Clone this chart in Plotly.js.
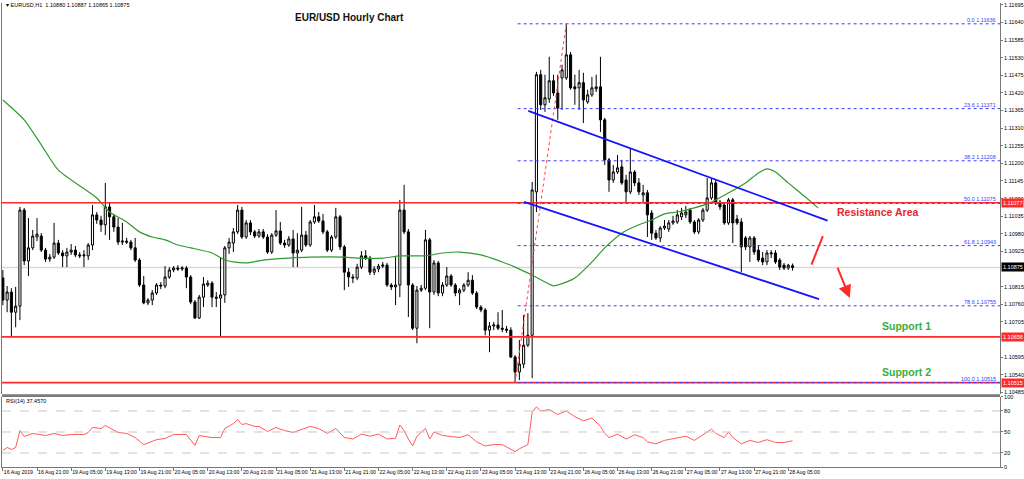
<!DOCTYPE html>
<html><head><meta charset="utf-8">
<script src="https://cdn.plot.ly/plotly-3.0.1.min.js"></script>
<style>html,body{margin:0;padding:0;background:#fff}#chart{width:1024px;height:479px}</style>
</head><body><div id="chart"></div>
<script>
// ---- EUR/USD H1 candles (bar 0 = 16 Aug 2019 13:00) ----
const opens = [1.10842,1.10773,1.10798,1.10735,1.10754,1.11054,1.10895,1.10936,1.10970,1.10973,
1.10929,1.10901,1.10907,1.10951,1.10920,1.10911,1.10923,1.10929,1.10914,1.10911,
1.10911,1.10945,1.11039,1.11023,1.11008,1.11064,1.11033,1.11001,1.10954,1.10957,
1.10954,1.10936,1.10898,1.10820,1.10764,1.10773,1.10795,1.10820,1.10817,1.10845,
1.10867,1.10873,1.10870,1.10873,1.10845,1.10767,1.10717,1.10782,1.10820,1.10826,
1.10782,1.10779,1.10789,1.10936,1.10951,1.10986,1.11054,1.10970,1.11014,1.10986,
1.10973,1.10986,1.10970,1.10923,1.10976,1.10989,1.10951,1.10945,1.10964,1.10920,
1.10929,1.10976,1.10945,1.11017,1.11033,1.11020,1.10986,1.10929,1.10970,1.11033,
1.10939,1.10860,1.10845,1.10842,1.10876,1.10911,1.10904,1.10860,1.10870,1.10879,
1.10882,1.10820,1.10814,1.10820,1.11054,1.10986,1.10820,1.10685,1.10804,1.10810,
1.10961,1.10798,1.10889,1.10795,1.10820,1.10848,1.10820,1.10795,1.10804,1.10820,
1.10835,1.10795,1.10751,1.10742,1.10679,1.10692,1.10695,1.10685,1.10682,1.10679,
1.10595,1.10548,1.10573,1.10632,1.10663,1.11111,1.11477,1.11383,1.11401,1.11458,
1.11420,1.11467,1.11467,1.11539,1.11439,1.11436,1.11452,1.11392,1.11414,1.11433,
1.11439,1.11336,1.11211,1.11148,1.11173,1.11189,1.11148,1.11111,1.11173,1.11139,
1.11101,1.11108,1.11045,1.10982,1.10967,1.10998,1.10995,1.11014,1.11017,1.11033,
1.11039,1.11054,1.11017,1.10986,1.11023,1.11054,1.11092,1.11139,1.11079,1.11070,
1.11014,1.11086,1.11026,1.11017,1.10967,1.10939,1.10967,1.10929,1.10904,1.10892,
1.10917,1.10920,1.10898,1.10882,1.10873,1.10880];
const highs = [1.10867,1.10817,1.10810,1.10814,1.11064,1.11061,1.11029,1.10992,1.11029,1.10982,
1.10936,1.10917,1.11014,1.10961,1.10929,1.10936,1.10948,1.10942,1.10923,1.10929,
1.10951,1.11070,1.11048,1.11036,1.11139,1.11076,1.11042,1.11029,1.11014,1.10967,
1.10961,1.10967,1.10904,1.10848,1.10779,1.10804,1.10826,1.10829,1.10879,1.10876,
1.10879,1.10882,1.10879,1.10879,1.10851,1.10773,1.10789,1.10845,1.10835,1.10832,
1.10798,1.10907,1.10942,1.10967,1.10998,1.11070,1.11064,1.11023,1.11023,1.10992,
1.10995,1.10995,1.10979,1.10982,1.11054,1.11017,1.10961,1.10973,1.10992,1.10982,
1.11064,1.10989,1.11023,1.11070,1.11048,1.11042,1.10992,1.10976,1.11061,1.11039,
1.10945,1.10873,1.10854,1.10886,1.10926,1.10929,1.10911,1.10879,1.10886,1.10892,
1.10889,1.10826,1.10907,1.11086,1.11133,1.10995,1.10826,1.10817,1.10820,1.10992,
1.10967,1.10898,1.10895,1.10829,1.10876,1.10854,1.10826,1.10810,1.10826,1.10860,
1.10851,1.10801,1.10757,1.10748,1.10704,1.10704,1.10735,1.10742,1.10692,1.10688,
1.10601,1.10648,1.10726,1.10732,1.11142,1.11486,1.11492,1.11477,1.11533,1.11477,
1.11477,1.11508,1.11636,1.11548,1.11477,1.11492,1.11483,1.11430,1.11470,1.11477,
1.11533,1.11342,1.11217,1.11195,1.11226,1.11211,1.11164,1.11248,1.11179,1.11154,
1.11133,1.11117,1.11054,1.10992,1.11004,1.11023,1.11023,1.11036,1.11054,1.11061,
1.11067,1.11061,1.11023,1.11029,1.11061,1.11154,1.11154,1.11148,1.11086,1.11079,
1.11092,1.11092,1.11039,1.11029,1.10973,1.10973,1.10973,1.10945,1.10923,1.10929,
1.10929,1.10929,1.10904,1.10889,1.10886,1.10887];
const lows = [1.10757,1.10735,1.10660,1.10688,1.10710,1.10882,1.10848,1.10929,1.10957,1.10923,
1.10892,1.10892,1.10901,1.10914,1.10876,1.10876,1.10914,1.10907,1.10904,1.10876,
1.10898,1.10929,1.11011,1.10986,1.10976,1.10961,1.10986,1.10945,1.10945,1.10948,
1.10929,1.10892,1.10814,1.10760,1.10757,1.10757,1.10789,1.10807,1.10810,1.10839,
1.10860,1.10864,1.10864,1.10810,1.10760,1.10714,1.10714,1.10751,1.10814,1.10751,
1.10751,1.10657,1.10764,1.10917,1.10923,1.10979,1.10964,1.10964,1.10976,1.10967,
1.10967,1.10964,1.10917,1.10917,1.10970,1.10945,1.10936,1.10939,1.10876,1.10876,
1.10923,1.10939,1.10939,1.11011,1.11014,1.10979,1.10923,1.10923,1.10964,1.10929,
1.10804,1.10814,1.10826,1.10835,1.10870,1.10898,1.10851,1.10851,1.10860,1.10873,
1.10814,1.10804,1.10757,1.10782,1.10979,1.10720,1.10679,1.10638,1.10798,1.10804,
1.10685,1.10789,1.10785,1.10785,1.10814,1.10814,1.10785,1.10757,1.10798,1.10814,
1.10789,1.10745,1.10735,1.10663,1.10610,1.10679,1.10679,1.10673,1.10670,1.10592,
1.10515,1.10523,1.10560,1.10626,1.10529,1.11048,1.11367,1.11361,1.11389,1.11411,
1.11336,1.11367,1.11461,1.11430,1.11383,1.11367,1.11326,1.11386,1.11408,1.11423,
1.11298,1.11195,1.11111,1.11139,1.11167,1.11133,1.11076,1.11104,1.11129,1.11101,
1.11076,1.10970,1.10961,1.10961,1.10954,1.10992,1.10986,1.11008,1.11011,1.11023,
1.11029,1.11011,1.10979,1.10979,1.11017,1.11048,1.11086,1.11070,1.11054,1.11008,
1.11008,1.10951,1.11008,1.10860,1.10929,1.10892,1.10914,1.10892,1.10882,1.10882,
1.10904,1.10886,1.10867,1.10867,1.10867,1.10865];
const closes = [1.10773,1.10798,1.10735,1.10754,1.11054,1.10895,1.10936,1.10973,1.10979,1.10929,
1.10901,1.10907,1.10951,1.10920,1.10911,1.10923,1.10929,1.10914,1.10911,1.10914,
1.10945,1.11039,1.11023,1.11008,1.11064,1.11033,1.11001,1.10954,1.10957,1.10954,
1.10936,1.10898,1.10820,1.10764,1.10773,1.10795,1.10820,1.10817,1.10845,1.10867,
1.10873,1.10870,1.10873,1.10845,1.10767,1.10717,1.10782,1.10823,1.10826,1.10782,
1.10779,1.10789,1.10936,1.10954,1.10986,1.11054,1.10970,1.11014,1.10986,1.10973,
1.10986,1.10970,1.10923,1.10976,1.10989,1.10951,1.10945,1.10964,1.10920,1.10929,
1.10976,1.10945,1.11017,1.11033,1.11020,1.10986,1.10929,1.10970,1.11033,1.10939,
1.10860,1.10845,1.10842,1.10876,1.10911,1.10904,1.10860,1.10870,1.10879,1.10882,
1.10820,1.10814,1.10820,1.11054,1.10986,1.10820,1.10685,1.10804,1.10810,1.10961,
1.10798,1.10889,1.10795,1.10820,1.10848,1.10820,1.10795,1.10804,1.10820,1.10835,
1.10795,1.10751,1.10742,1.10679,1.10692,1.10695,1.10685,1.10682,1.10679,1.10595,
1.10548,1.10573,1.10632,1.10663,1.11117,1.11477,1.11383,1.11405,1.11458,1.11420,
1.11373,1.11492,1.11539,1.11436,1.11433,1.11452,1.11398,1.11414,1.11436,1.11439,
1.11336,1.11211,1.11148,1.11173,1.11186,1.11139,1.11111,1.11173,1.11139,1.11111,
1.11108,1.11039,1.10982,1.10967,1.10998,1.11004,1.11014,1.11020,1.11039,1.11045,
1.11048,1.11017,1.10986,1.11023,1.11054,1.11092,1.11139,1.11076,1.11064,1.11014,
1.11086,1.11014,1.11014,1.10939,1.10939,1.10967,1.10923,1.10898,1.10892,1.10920,
1.10920,1.10892,1.10876,1.10873,1.10882,1.10875];

// ---- time axis labels (every 8 bars) ----
const timeLabels = ["16 Aug 2019","16 Aug 21:00","19 Aug 05:00","19 Aug 13:00","19 Aug 21:00","20 Aug 05:00",
"20 Aug 13:00","20 Aug 21:00","21 Aug 05:00","21 Aug 13:00","21 Aug 21:00","22 Aug 05:00","22 Aug 13:00",
"22 Aug 21:00","23 Aug 05:00","23 Aug 13:00","23 Aug 21:00","26 Aug 05:00","26 Aug 13:00","26 Aug 21:00",
"27 Aug 05:00","27 Aug 13:00","27 Aug 21:00","28 Aug 05:00"];
const labelBars = [0,8,16,24,32,40,48,56,64,72,80,88,96,104,112,120,128,136,144,152,160,168,176,184];

// ---- price axis tick labels (those hidden behind the marked levels are left out) ----
const priceTicks = [1.10485,1.10540,1.10595,1.10705,1.10760,1.10815,1.10925,1.10980,1.11035,
1.11090,1.11145,1.11200,1.11255,1.11310,1.11365,1.11420,1.11475,1.11530,1.11585,1.11640,1.11695];
const rsiTicks = [0,20,50,80,100];

// ---- moving average (bar, value) ----
const maBars = [0,5,9,13,22,25,29,32,35,38,41,44,49,52,54,57,61,67,72,80,83,89,93,99,103,107,112,117,120,124,
129,130,134,138,141,145,149,152,155,158,162,166,170,174,177,179,181,184,188,191];
const maValues = [1.11398,1.11336,1.11258,1.11179,1.11092,1.11048,1.11017,1.10986,1.10970,1.10961,1.10945,
1.10936,1.10920,1.10898,1.10892,1.10889,1.10898,1.10904,1.10907,1.10907,1.10904,1.10904,1.10911,1.10911,
1.10920,1.10923,1.10914,1.10892,1.10876,1.10851,1.10817,1.10820,1.10842,1.10892,1.10936,1.10982,1.11008,
1.11023,1.11042,1.11048,1.11061,1.11079,1.11108,1.11139,1.11170,1.11183,1.11173,1.11139,1.11095,1.11061];

// ---- RSI(14) (bar, value) ----
const rsiBars = [0,1,2,3,4,5,7,10,12,14,16,19,20,21,23,24,27,29,31,33,36,38,40,43,45,46,49,51,52,54,55,56,57,59,
60,62,64,66,68,70,72,74,76,78,80,82,84,86,88,90,92,93,94,95,96,97,99,100,101,103,105,107,109,111,113,115,117,
119,120,121,123,124,125,126,128,130,132,134,136,138,140,141,142,144,146,148,150,151,153,155,158,160,162,164,
166,167,169,170,171,173,175,177,179,181,183,185];
const rsiValues = [23.6,27.9,25,27.9,52,43.6,47.9,45,47.9,45,46.4,46.4,49.3,56.4,55,59.3,49.3,47.9,42,32,39,40.7,
46.4,46.4,30.7,45,42,42,55,62,68,60.7,62,57.9,57.9,50.7,56.4,52,49.3,53.6,58,55,48,55,42,40,47,44,47,40,41,60,52,
40,30,44,55,40,50,45,44,42,46,36,30,32,32,26,22,26,32,78,86,80,82,75,80,72,66,70,58,48,42,47,40,46,42,36,33,38,
42,44,38,46,54,48,42,50,42,33,38,35,39,35,35,37.457];

// ---- drawn objects ----
const levelNames = ["Resistance","Support 1","Support 2"];
const levelPrices = [1.11077,1.10658,1.10515];
const currentPrice = 1.10875;
const fibRatios = ["0.0","23.6","38.2","50.0","61.8","78.6","100.0"];
const fibPrices = [1.11636,1.11371,1.11208,1.11075,1.10943,1.10755,1.10515];
const fibStartBar = 120.6;
const fibAnchorBars = [120, 132];
const fibAnchorPrices = [1.10515, 1.11636];
const channelUpperBars = [123.1, 193.2], channelUpperPrices = [1.11364, 1.11021];
const channelLowerBars = [122.1, 191.2], channelLowerPrices = [1.11080, 1.10776];
const arrowUpBars = [189.3, 192.1], arrowUpPrices = [1.10879, 1.10973];
const arrowDownBars = [195.4, 198.4], arrowDownPrices = [1.10879, 1.10779];

const XMAX = 233.6;
const FONT = 'Liberation Sans, Arial, sans-serif';
const bars = opens.map((_, i) => i);

const traces = [
  {type:'candlestick', x:bars, open:opens, high:highs, low:lows, close:closes, xaxis:'x', yaxis:'y',
   increasing:{line:{color:'#000', width:1}, fillcolor:'#ffffff'},
   decreasing:{line:{color:'#000', width:1}, fillcolor:'#000000'},
   whiskerwidth:0, hoverinfo:'skip'},
  {type:'scatter', mode:'lines', x:maBars, y:maValues, xaxis:'x', yaxis:'y',
   line:{color:'#2f9a2f', width:1.2, shape:'spline', smoothing:0.6}, hoverinfo:'skip'},
  {type:'scatter', mode:'lines', x:rsiBars, y:rsiValues, xaxis:'x', yaxis:'y2',
   line:{color:'#ff5c5c', width:1}, hoverinfo:'skip'}
];

const shapes = [];
shapes.push({type:'rect', xref:'paper', yref:'paper', x0:0, x1:1, y0:0.1509, y1:0.1570,
  fillcolor:'#7a7a7a', line:{width:0}, layer:'above'});
[20,50,80].forEach(v => shapes.push({type:'line', xref:'paper', yref:'y2', x0:0, x1:1, y0:v, y1:v,
  line:{color:'#c8c8c8', width:1, dash:'dash'}}));
shapes.push({type:'line', xref:'paper', yref:'y', x0:0, x1:1, y0:currentPrice, y1:currentPrice,
  line:{color:'#d9d9d9', width:1.5}, layer:'below'});
levelPrices.forEach(p => shapes.push({type:'line', xref:'paper', yref:'y', x0:0, x1:1, y0:p, y1:p,
  line:{color:'#ff2a2a', width:1.6}}));
fibPrices.forEach(p => shapes.push({type:'line', xref:'x', yref:'y', x0:fibStartBar, x1:XMAX, y0:p, y1:p,
  line:{color:'#3b3bff', width:1, dash:'dot'}}));
shapes.push({type:'line', xref:'x', yref:'y', x0:fibAnchorBars[0], x1:fibAnchorBars[1],
  y0:fibAnchorPrices[0], y1:fibAnchorPrices[1], line:{color:'#ff4040', width:1, dash:'dot'}});
shapes.push({type:'line', xref:'x', yref:'y', x0:channelUpperBars[0], x1:channelUpperBars[1],
  y0:channelUpperPrices[0], y1:channelUpperPrices[1], line:{color:'#1414ff', width:1.8}});
shapes.push({type:'line', xref:'x', yref:'y', x0:channelLowerBars[0], x1:channelLowerBars[1],
  y0:channelLowerPrices[0], y1:channelLowerPrices[1], line:{color:'#1414ff', width:1.8}});

const ann = [];
ann.push({xref:'paper', yref:'paper', x:0.002, y:0.9957, xanchor:'left', yanchor:'middle', showarrow:false,
  text:'▾ EURUSD,H1  1.10880 1.10887 1.10865 1.10875', font:{family:FONT, size:5.5, color:'#000'}});
ann.push({xref:'paper', yref:'paper', x:0.002, y:0.1422, xanchor:'left', yanchor:'middle', showarrow:false,
  text:'RSI(14) 37.4570', font:{family:FONT, size:5.5, color:'#000'}});
ann.push({xref:'paper', yref:'paper', x:0.3477, y:0.9698, xanchor:'center', yanchor:'middle', showarrow:false,
  text:'<b>EUR/USD Hourly Chart</b>', font:{family:FONT, size:10, color:'#111'}});
ann.push({xref:'paper', yref:'y', x:0.8768, y:1.11048, xanchor:'center', yanchor:'middle', showarrow:false,
  text:'<b>Resistance Area</b>', font:{family:FONT, size:10.5, color:'#e8262b'}});
ann.push({xref:'paper', yref:'y', x:0.9068, y:1.10692, xanchor:'center', yanchor:'middle', showarrow:false,
  text:'<b>Support 1</b>', font:{family:FONT, size:10.5, color:'#3aae3a'}});
ann.push({xref:'paper', yref:'y', x:0.9068, y:1.10548, xanchor:'center', yanchor:'middle', showarrow:false,
  text:'<b>Support 2</b>', font:{family:FONT, size:10.5, color:'#3aae3a'}});
fibPrices.forEach((p, k) => ann.push({xref:'paper', yref:'y', x:0.998, y:p, xanchor:'right', yanchor:'bottom',
  yshift:-1, showarrow:false, text:fibRatios[k] + ' ' + p.toFixed(5), font:{family:FONT, size:5.5, color:'#3b3bff'}}));
const hl = [[levelPrices[0],'#ff2a2a'],[currentPrice,'#000000'],[levelPrices[1],'#ff2a2a'],[levelPrices[2],'#ff2a2a']];
hl.forEach(([p, c]) => ann.push({xref:'paper', yref:'y', x:1, y:p, xanchor:'left', yanchor:'middle', xshift:1,
  showarrow:false, text:p.toFixed(5), bgcolor:c, borderpad:1, font:{family:FONT, size:5.5, color:'#fff'}}));
ann.push({xref:'x', yref:'y', axref:'x', ayref:'y', x:arrowUpBars[1], y:arrowUpPrices[1], ax:arrowUpBars[0],
  ay:arrowUpPrices[0], showarrow:true, arrowhead:0, arrowwidth:2, arrowcolor:'#ff2a2a', text:''});
ann.push({xref:'x', yref:'y', axref:'x', ayref:'y', x:arrowDownBars[1], y:arrowDownPrices[1], ax:arrowDownBars[0],
  ay:arrowDownPrices[0], showarrow:true, arrowhead:2, arrowsize:1.3, arrowwidth:2, arrowcolor:'#ff2a2a', text:''});

const layout = {
  width:1024, height:479, margin:{l:2, r:24, t:3, b:12},
  paper_bgcolor:'#fff', plot_bgcolor:'#fff', showlegend:false, dragmode:false,
  font:{family:FONT, size:5.5, color:'#000'},
  xaxis:{range:[-0.2, XMAX], anchor:'y2', showgrid:false, zeroline:false, rangeslider:{visible:false},
    tickmode:'array', tickvals:labelBars, ticktext:timeLabels, tickangle:0, ticks:'outside', ticklen:3,
    tickcolor:'#777', ticklabelposition:'outside right', tickfont:{family:FONT, size:5.2, color:'#000'},
    showline:true, linecolor:'#777', linewidth:1},
  yaxis:{domain:[0.157, 1], range:[1.10479, 1.11701], side:'right', tickmode:'array', tickvals:priceTicks,
    tickformat:'.5f', ticks:'outside', ticklen:2, tickcolor:'#777', showgrid:false, zeroline:false,
    showline:true, linecolor:'#777', mirror:true, tickfont:{family:FONT, size:5.5, color:'#000'}},
  yaxis2:{domain:[0, 0.1509], range:[0, 100], side:'right', tickmode:'array', tickvals:rsiTicks,
    ticks:'outside', ticklen:2, tickcolor:'#777', showgrid:false, zeroline:false, showline:true,
    linecolor:'#777', mirror:true, tickfont:{family:FONT, size:5.5, color:'#000'}},
  shapes:shapes, annotations:ann
};
Plotly.newPlot('chart', traces, layout, {staticPlot:true, displayModeBar:false});
</script></body></html>
